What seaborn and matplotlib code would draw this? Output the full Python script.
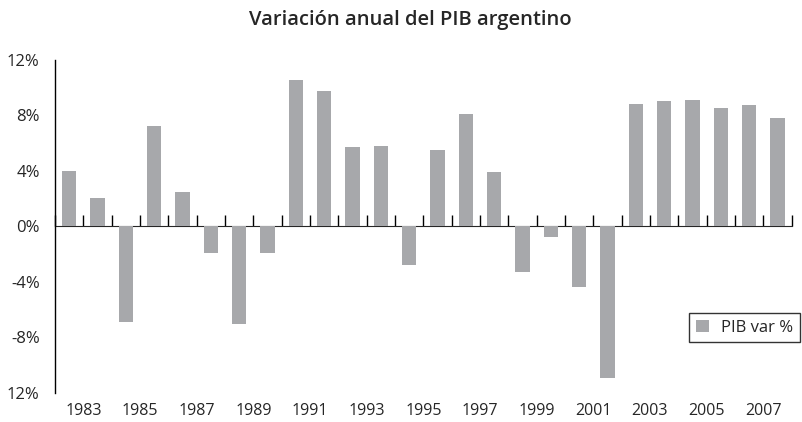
import matplotlib
matplotlib.use("Agg")
import matplotlib.pyplot as plt
import numpy as np
import pandas as pd
import seaborn as sns

years = list(range(1983, 2009))
pib_var = [4.0, 2.0, -6.9, 7.2, 2.5, -1.9, -7.0, -1.9, 10.5, 9.7, 5.7, 5.8, -2.8,
           5.5, 8.1, 3.9, -3.3, -0.8, -4.4, -10.9, 8.8, 9.0, 9.1, 8.5, 8.7, 7.8]
year_labels = [str(y) for y in range(1983, 2008, 2)]
ytick_values = [12, 8, 4, 0, -4, -8, -12]
ytick_labels = ["12%", "8%", "4%", "0%", "-4%", "-8%", "12%"]

sns.set_style("white")
plt.rcParams["font.family"] = ["Open Sans", "DejaVu Sans"]

df = pd.DataFrame({"year": years, "pib": pib_var})

fig = plt.figure(figsize=(8.02, 4.22), dpi=100)
ax = fig.add_axes([0.0686, 0.0687, 0.9185, 0.7903])

sns.barplot(data=df, x="year", y="pib", color="#A7A8AB", saturation=1,
            width=0.5, label="PIB var %", linewidth=0, ax=ax)

ax.set_xlim(-0.5, len(years) - 0.5)
ax.set_ylim(-12, 12)
ax.set_yticks(ytick_values)
ax.set_yticklabels(ytick_labels, fontsize=12)
ax.tick_params(axis="y", direction="out", length=7, width=1, color="black", pad=4)

# year labels sit at the bottom, between the bars
ax.set_xticks(np.arange(0, len(year_labels) * 2, 2) + 0.5)
ax.set_xticklabels(year_labels, fontsize=11.5)
ax.tick_params(axis="x", length=0, pad=7)
ax.set_xlabel("")
ax.set_ylabel("")

for side in ["top", "right", "bottom"]:
    ax.spines[side].set_visible(False)
ax.spines["left"].set_color("black")
ax.spines["left"].set_linewidth(1)

# zero line with tick marks between bars
zero_ax = ax.secondary_xaxis(0.5)
zero_ax.set_xticks(np.arange(-0.5, len(years), 1.0))
zero_ax.set_xticklabels([])
zero_ax.tick_params(direction="out", length=8, width=1, color="black")
zero_ax.spines["bottom"].set_color("#333333")
zero_ax.spines["bottom"].set_linewidth(1.2)

leg = ax.legend(loc="upper left", bbox_to_anchor=(0.861, 0.240), fontsize=12,
                frameon=True, fancybox=False, handlelength=0.8, handleheight=0.8,
                borderpad=0.4, handletextpad=0.7, borderaxespad=0)
leg.get_frame().set_edgecolor("black")
leg.get_frame().set_linewidth(1)

fig.suptitle("Variación anual del PIB argentino", x=0.511, y=0.952, va="center",
             fontsize=14.5, fontweight="semibold")

fig.savefig("out.png", dpi=100)
